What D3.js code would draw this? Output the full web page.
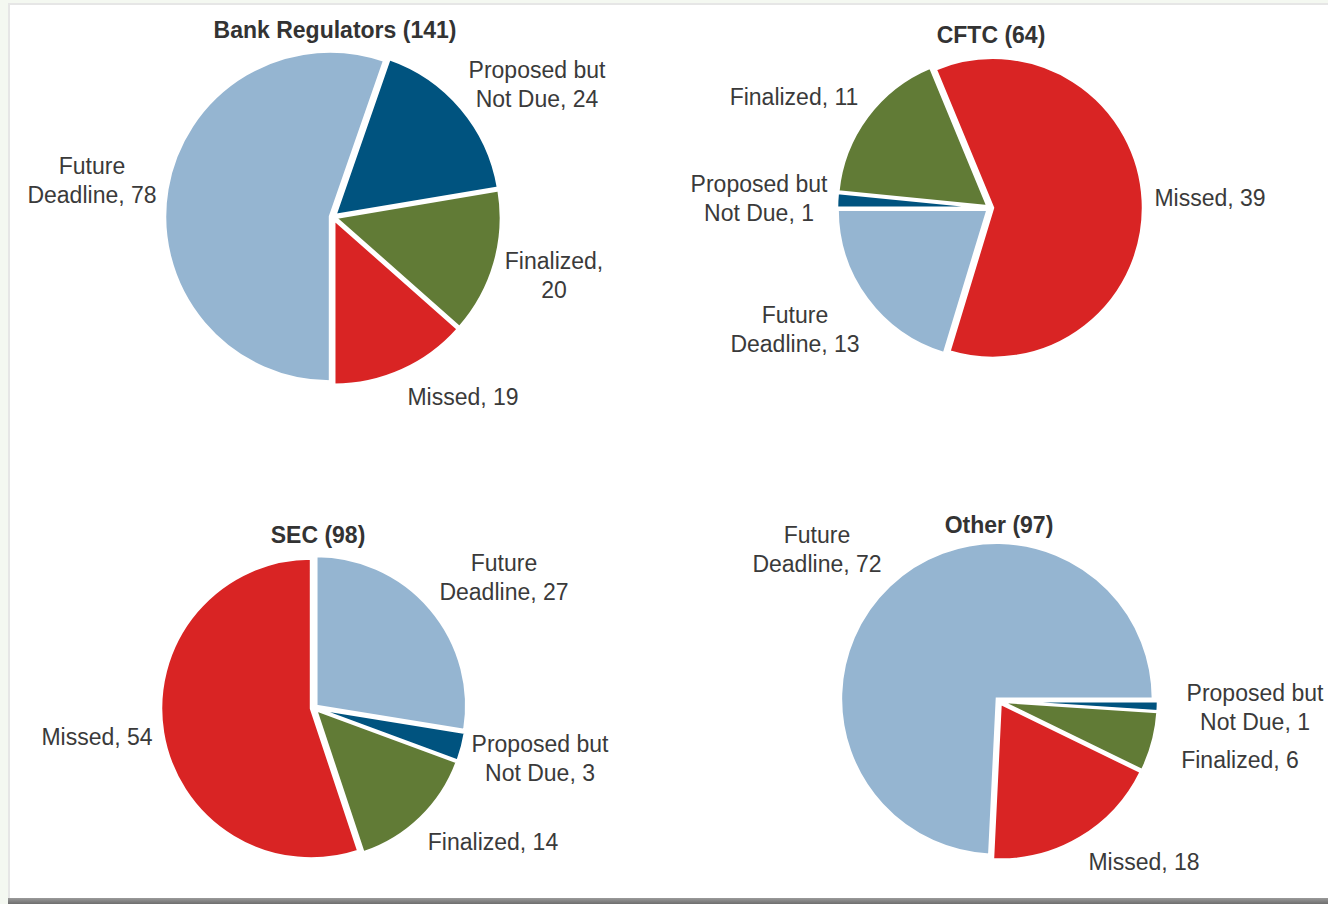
<!DOCTYPE html>
<html>
<head>
<meta charset="utf-8">
<script src="https://cdn.jsdelivr.net/npm/d3@7"></script>
<style>
  html, body { margin: 0; padding: 0; background: #f4f8f1; }
  svg { display: block; }
</style>
</head>
<body>
<svg id="chart" width="1328" height="904"></svg>
<script>
// ---------- data ----------
const categories = ["Future Deadline", "Proposed but Not Due", "Finalized", "Missed"];
const agencies = ["Bank Regulators", "CFTC", "SEC", "Other"];
const agencyTotals = [141, 64, 98, 97];
const bankValues = [78, 24, 20, 19];
const cftcValues = [13, 1, 11, 39];
const secValues = [27, 3, 14, 54];
const otherValues = [72, 1, 6, 18];
const seriesValues = [bankValues, cftcValues, secValues, otherValues];

// ---------- styles / layout ----------
const colors = ["#95b5d1", "#00537f", "#617b36", "#d92424"];
const textColor = "#3a3a3a";
const fontFamily = "'Liberation Sans', Arial, Helvetica, sans-serif";
const fontSize = 23;
const lineGap = 29;

const pieLayout = [
  { cx: 333, cy: 217, r: 165, startDeg: 180, titleX: 335, titleY: 38,
    labels: [[-241, -43], [204, -139], [221, 52, true], [130, 188]] },
  { cx: 990, cy: 208, r: 150, startDeg: 196.9, titleX: 991, titleY: 43,
    labels: [[-195, 115], [-231, -16], [-196, -103], [220, -2]] },
  { cx: 314, cy: 708, r: 150, startDeg: 0, titleX: 318, titleY: 543,
    labels: [[190, -137], [226, 44], [179, 142], [-217, 37]] },
  { cx: 999, cy: 701, r: 156, startDeg: -177.2, titleX: 999, titleY: 533,
    labels: [[-182, -158], [256, 0], [241, 67], [145, 169]] }
];
const explode = 3;

// ---------- frame ----------
const svg = d3.select("#chart");
const defs = svg.append("defs");
const lg = defs.append("linearGradient").attr("id", "shadowB").attr("x1", 0).attr("y1", 0).attr("x2", 0).attr("y2", 1);
lg.append("stop").attr("offset", "0%").attr("stop-color", "#9a9a9a");
lg.append("stop").attr("offset", "100%").attr("stop-color", "#6e6e6e");

svg.append("rect").attr("x", 8).attr("y", 3).attr("width", 1320).attr("height", 896)
  .attr("fill", "#e6e6e6");
svg.append("rect").attr("x", 10).attr("y", 5).attr("width", 1318).attr("height", 893)
  .attr("fill", "#ffffff");
svg.append("rect").attr("x", 8).attr("y", 898).attr("width", 1320).attr("height", 6)
  .attr("fill", "url(#shadowB)");

// ---------- pies ----------
function labelLines(catIndex, value, wrap) {
  if (catIndex === 0) return ["Future", "Deadline, " + value];
  if (catIndex === 1) return ["Proposed but", "Not Due, " + value];
  if (catIndex === 2) return wrap ? ["Finalized,", String(value)] : ["Finalized, " + value];
  return ["Missed, " + value];
}

seriesValues.forEach((vals, i) => {
  const L = pieLayout[i];
  const start = L.startDeg * Math.PI / 180;
  const pie = d3.pie().sort(null).value(d => d.value)
    .startAngle(start).endAngle(start + 2 * Math.PI);
  const arc = d3.arc().innerRadius(0).outerRadius(L.r);
  const data = vals.map((v, k) => ({ cat: categories[k], idx: k, value: v }));
  const arcs = pie(data);

  const g = svg.append("g").attr("transform", `translate(${L.cx},${L.cy})`);

  g.selectAll("path").data(arcs).join("path")
    .attr("d", arc)
    .attr("transform", d => {
      const a = (d.startAngle + d.endAngle) / 2;
      return `translate(${explode * Math.sin(a)},${-explode * Math.cos(a)})`;
    })
    .attr("fill", d => colors[d.data.idx])
    .attr("stroke", "#ffffff")
    .attr("stroke-width", 2.5)
    .attr("stroke-linejoin", "miter");

  // labels
  arcs.forEach(d => {
    const pos = L.labels[d.data.idx];
    const lines = labelLines(d.data.idx, d.data.value, pos[2]);
    const t = g.append("text")
      .attr("x", pos[0]).attr("y", pos[1])
      .attr("text-anchor", "middle")
      .attr("font-family", fontFamily)
      .attr("font-size", fontSize)
      .attr("fill", textColor);
    lines.forEach((ln, j) => {
      t.append("tspan").attr("x", pos[0]).attr("y", pos[1] + j * lineGap).text(ln);
    });
  });

  // title
  svg.append("text")
    .attr("x", L.titleX).attr("y", L.titleY)
    .attr("text-anchor", "middle")
    .attr("font-family", fontFamily)
    .attr("font-size", fontSize)
    .attr("font-weight", "bold")
    .attr("fill", "#333333")
    .text(`${agencies[i]} (${agencyTotals[i]})`);
});
</script>
</body>
</html>
